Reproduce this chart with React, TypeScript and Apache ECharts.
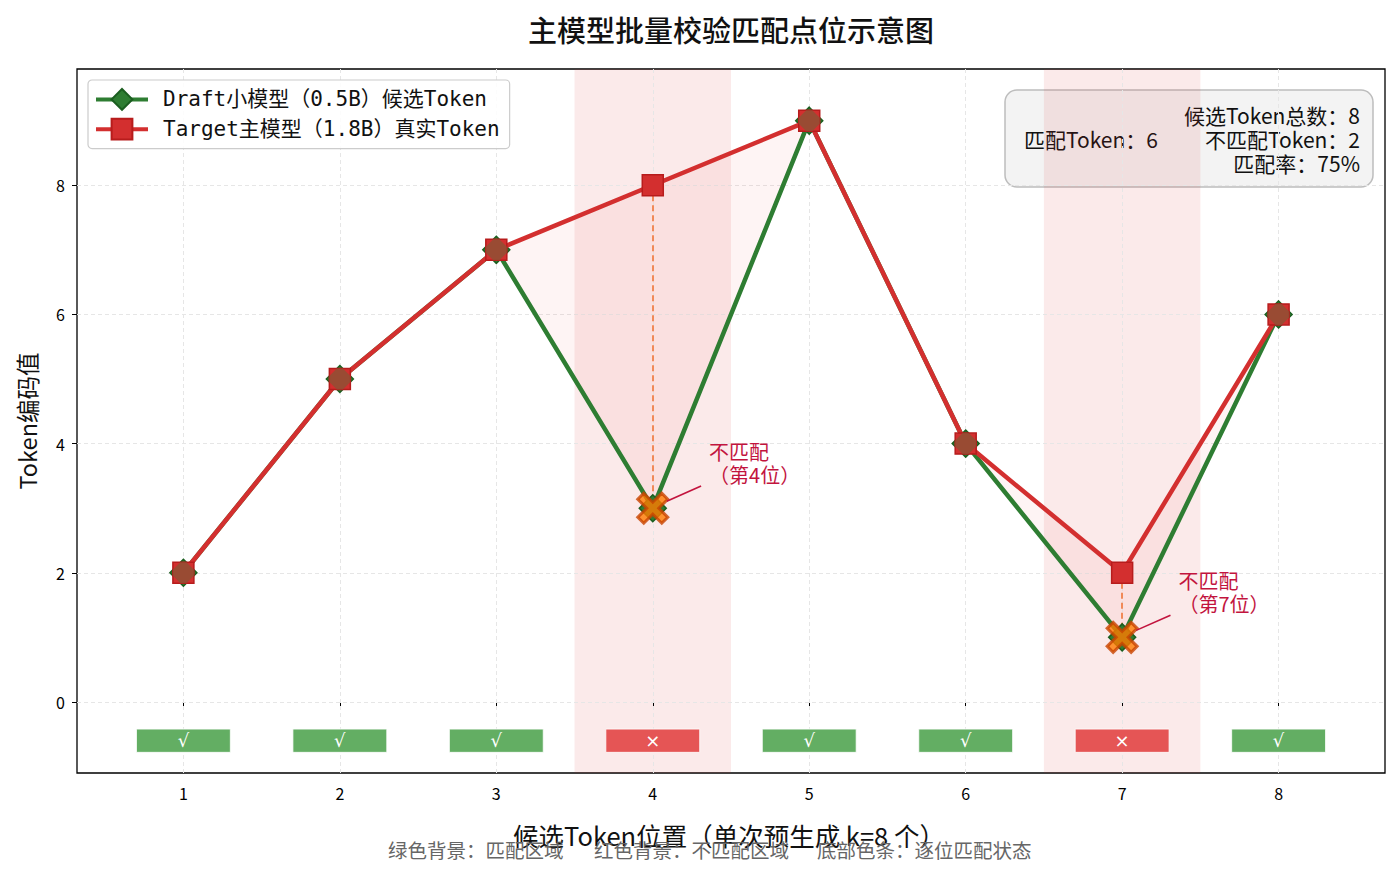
import { useEffect, useRef } from 'react'
import * as echarts from 'echarts'

const positions = [1, 2, 3, 4, 5, 6, 7, 8]
const draftTokens = [2, 5, 7, 3, 9, 4, 1, 6]
const targetTokens = [2, 5, 7, 8, 9, 4, 2, 6]
const xTicks = [1, 2, 3, 4, 5, 6, 7, 8]
const yTicks = [0, 2, 4, 6, 8]

const DRAFT_NAME = 'Draft小模型（0.5B）候选Token'
const TARGET_NAME = 'Target主模型（1.8B）真实Token'

const CJK = '"Noto Sans CJK SC", "Noto Sans", sans-serif'
const MONO_CJK = '"DejaVu Sans Mono", "Noto Sans CJK SC", monospace'

const GREEN = '#2e7d32'
const GREEN_EDGE = '#1b5e20'
const RED = '#d32f2f'
const RED_EDGE = '#b71c1c'
const BROWN = '#8b5234'
const ANN = '#c2143e'

// filled "X" marker and the square/diamond overlap octagon
const X_PATH = 'path://M2,0L5,3L8,0L10,2L7,5L10,8L8,10L5,7L2,10L0,8L3,5L0,2Z'
const OCT_PATH = 'path://M7.5,0L13.5,0L21,7.5L21,13.5L13.5,21L7.5,21L0,13.5L0,7.5Z'

const matched = positions.map((_, i) => draftTokens[i] === targetTokens[i])
const mismatchIdx = positions.map((_, i) => i).filter(i => !matched[i])

function buildOption(): echarts.EChartsOption {
  const total = positions.length
  const matchCount = matched.filter(Boolean).length
  const missCount = total - matchCount
  const rate = Math.round((matchCount / total) * 100)

  return {
    animation: false,
    backgroundColor: '#ffffff',
    grid: {
      left: 77,
      right: 15,
      top: 69,
      bottom: 99,
      show: true,
      borderColor: '#000',
      borderWidth: 1.3,
      backgroundColor: 'transparent'
    },
    legend: {
      data: [DRAFT_NAME, TARGET_NAME],
      orient: 'vertical',
      left: 88,
      top: 80,
      padding: [8, 10, 8, 6],
      itemGap: 7,
      itemWidth: 52,
      itemHeight: 26,
      borderColor: '#cccccc',
      borderWidth: 1.2,
      borderRadius: 4,
      backgroundColor: 'rgba(255,255,255,0.85)',
      lineStyle: { width: 4 },
      textStyle: { fontSize: 21, fontFamily: MONO_CJK, color: '#111', padding: [0, 0, 0, 10] },
      selectedMode: false
    },
    xAxis: {
      type: 'value',
      min: 0.32,
      max: 8.68,
      axisLine: { show: false },
      splitLine: { show: false },
      axisTick: { show: true, length: 5, lineStyle: { color: '#000' }, customValues: xTicks },
      axisLabel: { color: '#000', fontSize: 16, fontFamily: CJK, margin: 12, customValues: xTicks }
    },
    yAxis: {
      type: 'value',
      min: -1.1,
      max: 9.8,
      axisLine: { show: false },
      splitLine: { show: false },
      axisTick: { show: true, length: 5, lineStyle: { color: '#000' }, customValues: yTicks },
      axisLabel: { color: '#000', fontSize: 16, fontFamily: CJK, margin: 12, customValues: yTicks }
    },
    graphic: [
      {
        type: 'text',
        z: 100,
        x: 731,
        y: 29,
        style: {
          text: '主模型批量校验匹配点位示意图',
          fill: '#111',
          font: `500 29px ${CJK}`,
          align: 'center',
          verticalAlign: 'middle'
        }
      },
      {
        type: 'text',
        z: 100,
        x: 27,
        y: 421,
        rotation: Math.PI / 2,
        style: {
          text: 'Token编码值',
          fill: '#111',
          font: `23.5px ${CJK}`,
          align: 'center',
          verticalAlign: 'middle'
        }
      },
      {
        type: 'text',
        z: 100,
        x: 729,
        y: 834,
        style: {
          text: '候选Token位置（单次预生成 k=8 个）',
          fill: '#111',
          font: `25.5px ${CJK}`,
          align: 'center',
          verticalAlign: 'middle'
        }
      },
      ...[
        { x: 388, text: '绿色背景：匹配区域' },
        { x: 594, text: '红色背景：不匹配区域' },
        { x: 817, text: '底部色条：逐位匹配状态' }
      ].map(n => ({
        type: 'text' as const,
        z: 101,
        x: n.x,
        y: 849,
        style: {
          text: n.text,
          fill: '#666',
          font: `19.5px ${CJK}`,
          align: 'left',
          verticalAlign: 'middle'
        }
      })),
      {
        type: 'group',
        z: 100,
        children: [
          {
            type: 'rect',
            shape: { x: 1005, y: 90, width: 368, height: 97, r: 12 },
            style: { fill: '#f3f3f3', stroke: '#bdbdbd', lineWidth: 1.5 }
          },
          ...[
            `候选Token总数：${total}`,
            `匹配Token：${matchCount}          不匹配Token：${missCount}`,
            `匹配率：${rate}%`
          ].map((t, i) => ({
            type: 'text' as const,
            x: 1360,
            y: 115 + i * 24,
            style: {
              text: t,
              fill: '#111',
              font: `21px ${CJK}`,
              align: 'right',
              verticalAlign: 'middle'
            }
          }))
        ]
      }
    ],
    series: [
      {
        // mismatch bands and the light dashed grid
        type: 'line',
        data: [[positions[0], draftTokens[0]]],
        symbol: 'none',
        lineStyle: { width: 0 },
        silent: true,
        z: 1,
        markArea: {
          silent: true,
          z: 0,
          itemStyle: { color: 'rgba(220,50,50,0.1)' },
          data: mismatchIdx.map(i => [
            { xAxis: positions[i] - 0.5 },
            { xAxis: positions[i] + 0.5 }
          ]) as any
        },
        markLine: {
          silent: true,
          z: 1,
          symbol: 'none',
          label: { show: false },
          emphasis: { disabled: true },
          lineStyle: { color: '#e6e6e6', type: [4, 3], width: 1 },
          data: [
            ...xTicks.map(v => ({ xAxis: v })),
            ...yTicks.map(v => ({ yAxis: v }))
          ]
        }
      },
      {
        // fill between draft and target
        type: 'custom',
        silent: true,
        z: 2,
        data: [[positions[0], draftTokens[0]]],
        renderItem: (_params: any, api: any) => {
          const top = positions.map((p, i) => api.coord([p, targetTokens[i]]))
          const bottom = positions.map((p, i) => api.coord([p, draftTokens[i]])).reverse()
          return {
            type: 'polygon',
            shape: { points: [...top, ...bottom] },
            style: { fill: 'rgba(230,60,60,0.06)' }
          }
        }
      } as any,
      {
        // dashed connectors at mismatches
        type: 'line',
        data: [[positions[0], draftTokens[0]]],
        symbol: 'none',
        lineStyle: { width: 0 },
        silent: true,
        z: 2,
        markLine: {
          silent: true,
          z: 2,
          symbol: 'none',
          label: { show: false },
          emphasis: { disabled: true },
          lineStyle: { color: '#f07838', type: [6, 4], width: 1.6 },
          data: mismatchIdx.map(i => [
            { coord: [positions[i], targetTokens[i]] },
            { coord: [positions[i], draftTokens[i]] }
          ]) as any
        }
      },
      {
        // per-position status strip
        type: 'custom',
        silent: true,
        z: 3,
        data: positions.map((p, i) => [p, matched[i] ? 1 : 0]),
        renderItem: (_params: any, api: any) => {
          const x = api.value(0)
          const ok = api.value(1) === 1
          const a = api.coord([x - 0.3, -0.42])
          const b = api.coord([x + 0.3, -0.78])
          return {
            type: 'group',
            children: [
              {
                type: 'rect',
                shape: { x: a[0], y: a[1], width: b[0] - a[0], height: b[1] - a[1] },
                style: { fill: ok ? '#63ae63' : '#e55555', stroke: '#ffffff', lineWidth: 0.8 }
              },
              {
                type: 'text',
                x: (a[0] + b[0]) / 2,
                y: (a[1] + b[1]) / 2,
                style: {
                  text: ok ? '√' : '×',
                  fill: '#ffffff',
                  font: `18px "DejaVu Sans", ${CJK}`,
                  align: 'center',
                  verticalAlign: 'middle'
                }
              }
            ]
          }
        }
      } as any,
      {
        name: DRAFT_NAME,
        type: 'line',
        z: 3,
        data: positions.map((p, i) => [p, draftTokens[i]]),
        symbol: 'diamond',
        symbolSize: 27,
        itemStyle: { color: GREEN, borderColor: GREEN_EDGE, borderWidth: 1.5 },
        lineStyle: { color: GREEN, width: 4.5 },
        emphasis: { disabled: true }
      },
      {
        name: TARGET_NAME,
        type: 'line',
        z: 4,
        data: positions.map((p, i) => [p, targetTokens[i]]),
        symbol: 'rect',
        symbolSize: 21,
        itemStyle: { color: RED, borderColor: RED_EDGE, borderWidth: 1.5 },
        lineStyle: { color: RED, width: 4.5 },
        emphasis: { disabled: true }
      },
      {
        // overlap of square and diamond where both agree
        type: 'scatter',
        z: 5,
        silent: true,
        symbol: OCT_PATH,
        symbolSize: 21,
        itemStyle: { color: BROWN },
        data: positions.map((p, i) => [p, draftTokens[i]]).filter((_, i) => matched[i])
      },
      {
        type: 'scatter',
        z: 6,
        silent: true,
        symbol: X_PATH,
        symbolSize: 30,
        itemStyle: { color: '#ff7a00', borderColor: '#c84300', borderWidth: 3 },
        data: mismatchIdx.map(i => [positions[i], draftTokens[i]])
      },
      {
        // mismatch callouts
        type: 'custom',
        silent: true,
        z: 7,
        data: mismatchIdx.map(i => [positions[i], draftTokens[i]]),
        renderItem: (_params: any, api: any) => {
          const x = api.value(0)
          const y = api.value(1)
          const p = api.coord([x, y])
          const t = api.coord([x + 0.36, y + 0.7])
          return {
            type: 'group',
            children: [
              {
                type: 'line',
                shape: { x1: t[0] - 8, y1: t[1] + 23, x2: p[0] + 14, y2: p[1] - 7 },
                style: { stroke: ANN, lineWidth: 1.6 }
              },
              {
                type: 'text',
                x: t[0],
                y: t[1],
                style: {
                  text: `不匹配\n（第${x}位）`,
                  fill: ANN,
                  font: `20px ${CJK}`,
                  lineHeight: 23,
                  align: 'left',
                  verticalAlign: 'middle'
                }
              }
            ]
          }
        }
      } as any
    ]
  }
}

export default function App() {
  const chartRef = useRef<HTMLDivElement>(null)

  useEffect(() => {
    if (!chartRef.current) return
    const chart = echarts.init(chartRef.current, undefined, { renderer: 'svg' })
    chart.setOption(buildOption())
    return () => {
      chart.dispose()
    }
  }, [])

  return (
    <div
      ref={chartRef}
      style={{ position: 'fixed', left: 0, top: 0, width: 1400, height: 872, background: '#fff' }}
    />
  )
}
